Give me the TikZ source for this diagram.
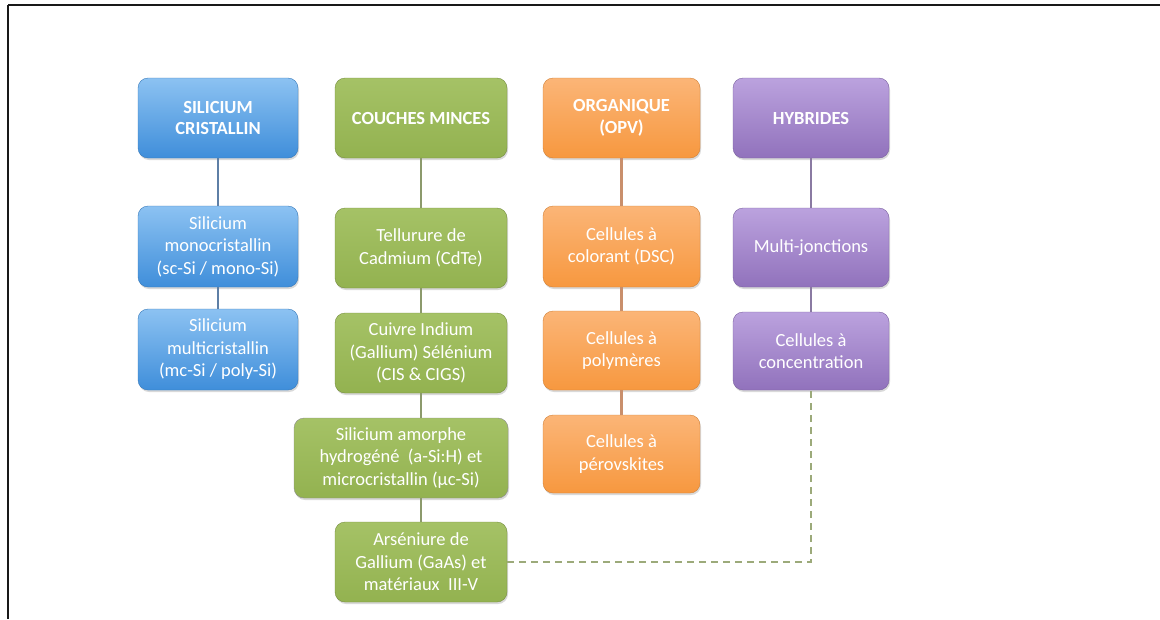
\documentclass[tikz,border=0pt]{standalone}
\usepackage{fontspec}
\setmainfont{Carlito}
\usetikzlibrary{shadows}
\definecolor{bluetop}{HTML}{8CC2F2}
\definecolor{bluebot}{HTML}{3F8EDA}
\definecolor{greentop}{HTML}{A5C266}
\definecolor{greenbot}{HTML}{93B250}
\definecolor{orangetop}{HTML}{FBB577}
\definecolor{orangebot}{HTML}{F7983F}
\definecolor{purpletop}{HTML}{BBA2DE}
\definecolor{purplebot}{HTML}{9172BC}
\definecolor{blueline}{HTML}{5E7FA6}
\definecolor{greenline}{HTML}{8C9A6C}
\definecolor{orangeline}{HTML}{C98F6C}
\definecolor{purpleline}{HTML}{8A7AA2}
\definecolor{dashline}{HTML}{9CAA7A}
\begin{document}
\begin{tikzpicture}[x=1pt,y=-1pt,
  box/.style={rounded corners=10pt, align=center, text=white,
    font=\fontsize{18.5}{22.5}\selectfont, inner sep=1pt, minimum height=80pt,
    drop shadow={shadow xshift=1pt,shadow yshift=-2pt,opacity=0.25,fill=black!60}},
  head/.style={box, font=\bfseries\fontsize{18.5}{21.5}\selectfont},
  bluebox/.style={top color=bluetop, bottom color=bluebot, draw=bluebot!85!black, line width=0.4pt, minimum width=160pt},
  greenbox/.style={top color=greentop, bottom color=greenbot, draw=greenbot!80!black, line width=0.4pt, minimum width=172pt},
  orangebox/.style={top color=orangetop, bottom color=orangebot, draw=orangebot!85!black, line width=0.4pt, minimum width=157pt},
  purplebox/.style={top color=purpletop, bottom color=purplebot, draw=purplebot!85!black, line width=0.4pt, minimum width=156pt},
  conn/.style={line width=2.3pt},
  dashconn/.style={line width=2.3pt, dashed, dash pattern=on 7pt off 5pt, draw=dashline}
]
\useasboundingbox (0,0) rectangle (1160,619);
% frame
\draw[line width=2.5pt, draw=black!90] (8,5) -- (1160,5);
\draw[line width=2.5pt, draw=black!90] (8,5) -- (8,619);

% blue column
\node[head,bluebox] (bh) at (218,118) {SILICIUM\\CRISTALLIN};
\node[box,bluebox,minimum height=81pt] (b1) at (218,246.5) {Silicium\\monocristallin\\(sc-Si / mono-Si)};
\node[box,bluebox,minimum height=81pt] (b2) at (218,349.5) {Silicium\\multicristallin\\(mc-Si / poly-Si)};

% green column
\node[head,greenbox] (gh) at (421,118) {COUCHES MINCES};
\node[box,greenbox] (g1) at (421,248) {Tellurure de\\Cadmium (CdTe)};
\node[box,greenbox] (g2) at (421,353) {Cuivre Indium\\(Gallium) Sélénium\\(CIS \& CIGS)};
\node[box,greenbox,minimum width=214pt,draw=black!45] (g3) at (401,458) {Silicium amorphe\\hydrogéné~~(a-Si:H) et\\microcristallin (µc-Si)};
\node[box,greenbox] (g4) at (421,562) {Arséniure de\\Gallium (GaAs) et\\matériaux~~III-V};

% orange column
\node[head,orangebox] (oh) at (621.5,118) {ORGANIQUE\\(OPV)};
\node[box,orangebox,minimum height=81pt] (o1) at (621.5,246.5) {Cellules à\\colorant (DSC)};
\node[box,orangebox,minimum height=79pt] (o2) at (621.5,350.5) {Cellules à\\polymères};
\node[box,orangebox,minimum height=78pt] (o3) at (621.5,454) {Cellules à\\pérovskites};

% purple column
\node[head,purplebox] (ph) at (811,118) {HYBRIDES};
\node[box,purplebox,minimum height=79pt] (p1) at (811,247.5) {Multi-jonctions};
\node[box,purplebox,minimum height=78pt] (p2) at (811,351) {Cellules à\\concentration};

% connectors
\draw[conn,blueline] (bh) -- (b1);
\draw[conn,blueline] (b1) -- (b2);
\draw[conn,greenline] (gh) -- (g1);
\draw[conn,greenline] (g1) -- (g2);
\draw[conn,greenline] (g2.south) -- (g2.south |- g3.north);
\draw[conn,greenline] (g2.south |- g3.south) -- (g4.north);
\draw[conn,orangeline] (oh) -- (o1);
\draw[conn,orangeline] (o1) -- (o2);
\draw[conn,orangeline] (o2) -- (o3);
\draw[conn,purpleline] (ph) -- (p1);
\draw[conn,purpleline] (p1) -- (p2);
\draw[dashconn] (g4.east) -| (p2.south);
\end{tikzpicture}
\end{document}
